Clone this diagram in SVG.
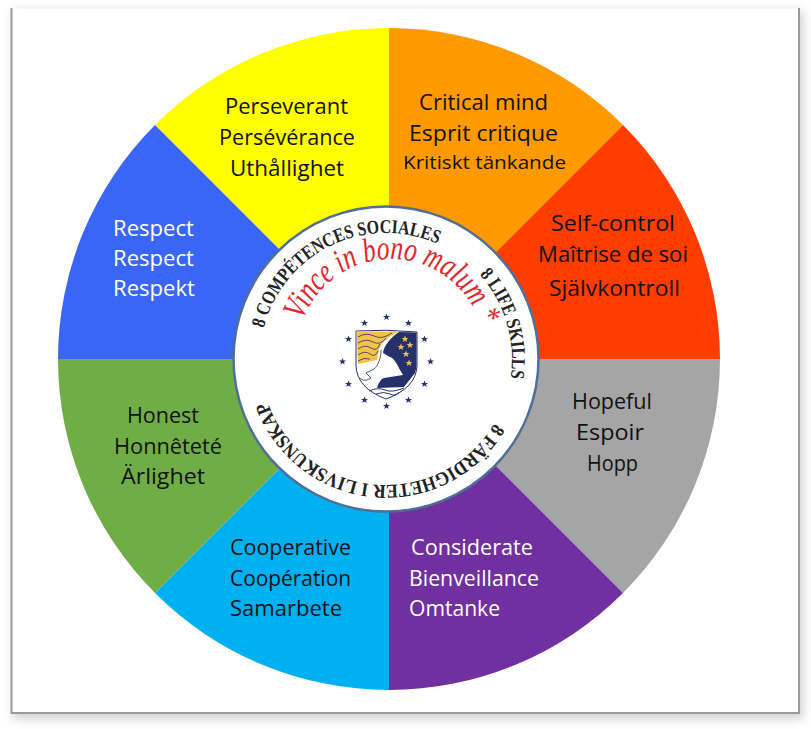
<svg xmlns="http://www.w3.org/2000/svg" xmlns:xlink="http://www.w3.org/1999/xlink" width="811" height="729" viewBox="0 0 811 729">
<style>
.l{font-family:"Open Sans","Noto Sans",sans-serif;font-size:21px;fill:#111;}
.w{fill:#fff;}
.c{font-family:"Liberation Serif",serif;font-weight:bold;font-size:19.500px;fill:#222;}
.v{font-family:"Liberation Serif",serif;font-style:italic;font-size:34px;fill:#e0262c;}
.st{fill:#26306a;}
</style>
<defs>
<filter id="sh" x="-5%" y="-5%" width="110%" height="110%"><feGaussianBlur stdDeviation="5"/></filter>
<path id="ring" d="M260,359 A126,126 0 1 1 512,359 A126,126 0 1 1 260,359"/>
<path id="arc" d="M297,353 A94,94 0 0 1 485,353"/>
<polygon id="s" points="0,-3.6 1,-1.1 3.500,-1.1 1.500,.5 2.200,3 0,1.500 -2.200,3 -1.500,.5 -3.500,-1.1 -1,-1.1"/>
</defs>
<g id="frame">
<rect x="13" y="11" width="790" height="708" fill="#999" opacity=".45" filter="url(#sh)"/>
<rect x="11.500" y="8.500" width="787" height="704" fill="#fff"/>
<path d="M11.500,8 V713 H799 V8" fill="none" stroke="#9a9a9a" stroke-width="2"/>
</g>
<g id="perseverant">
<path d="M389,359 L389,28 A331,331 0 0 0 155,125 Z" fill="#ffff00"/>
<text class="l" x="225" y="114" textLength="123" lengthAdjust="spacingAndGlyphs">Perseverant</text>
<text class="l" x="219" y="145" textLength="136" lengthAdjust="spacingAndGlyphs">Persévérance</text>
<text class="l" x="230" y="176" textLength="114" lengthAdjust="spacingAndGlyphs">Uthållighet</text>
</g>
<g id="critical-mind">
<path d="M389,359 L389,28 A331,331 0 0 1 623,125 Z" fill="#ff9900"/>
<text class="l" x="419" y="110" textLength="129" lengthAdjust="spacingAndGlyphs">Critical mind</text>
<text class="l" x="409" y="141" textLength="149" lengthAdjust="spacingAndGlyphs">Esprit critique</text>
<text class="l" x="403" y="169" textLength="163" lengthAdjust="spacingAndGlyphs" style="font-size:19px">Kritiskt tänkande</text>
</g>
<g id="self-control">
<path d="M389,359 L623,125 A331,331 0 0 1 720,359 Z" fill="#ff3d00"/>
<text class="l" x="551" y="231" textLength="124" lengthAdjust="spacingAndGlyphs">Self-control</text>
<text class="l" x="538" y="262" textLength="150" lengthAdjust="spacingAndGlyphs">Maîtrise de soi</text>
<text class="l" x="549" y="296" textLength="131" lengthAdjust="spacingAndGlyphs">Självkontroll</text>
</g>
<g id="hopeful">
<path d="M389,359 L720,359 A331,331 0 0 1 623,593 Z" fill="#a5a5a5"/>
<text class="l" x="572" y="409" textLength="80" lengthAdjust="spacingAndGlyphs">Hopeful</text>
<text class="l" x="576" y="440" textLength="68" lengthAdjust="spacingAndGlyphs">Espoir</text>
<text class="l" x="587" y="471" textLength="51" lengthAdjust="spacingAndGlyphs">Hopp</text>
</g>
<g id="considerate">
<path d="M389,359 L623,593 A331,331 0 0 1 389,690 Z" fill="#7030a0"/>
<text class="l w" x="411" y="555" textLength="122" lengthAdjust="spacingAndGlyphs">Considerate</text>
<text class="l w" x="409" y="586" textLength="130" lengthAdjust="spacingAndGlyphs">Bienveillance</text>
<text class="l w" x="409" y="616" textLength="91" lengthAdjust="spacingAndGlyphs">Omtanke</text>
</g>
<g id="cooperative">
<path d="M389,359 L389,690 A331,331 0 0 1 155,593 Z" fill="#00b0f0"/>
<text class="l" x="230" y="555" textLength="121" lengthAdjust="spacingAndGlyphs">Cooperative</text>
<text class="l" x="230" y="586" textLength="121" lengthAdjust="spacingAndGlyphs">Coopération</text>
<text class="l" x="230" y="616" textLength="112" lengthAdjust="spacingAndGlyphs">Samarbete</text>
</g>
<g id="honest">
<path d="M389,359 L155,593 A331,331 0 0 1 58,359 Z" fill="#70ad47"/>
<text class="l" x="127" y="423" textLength="72" lengthAdjust="spacingAndGlyphs">Honest</text>
<text class="l" x="114" y="454" textLength="108" lengthAdjust="spacingAndGlyphs">Honnêteté</text>
<text class="l" x="121" y="484" textLength="84" lengthAdjust="spacingAndGlyphs">Ärlighet</text>
</g>
<g id="respect">
<path d="M389,359 L58,359 A331,331 0 0 1 155,125 Z" fill="#3a66f7"/>
<text class="l w" x="113" y="236" textLength="81" lengthAdjust="spacingAndGlyphs">Respect</text>
<text class="l w" x="113" y="266" textLength="81" lengthAdjust="spacingAndGlyphs">Respect</text>
<text class="l w" x="113" y="296" textLength="82" lengthAdjust="spacingAndGlyphs">Respekt</text>
</g>
<g id="hub">
<circle cx="386" cy="359" r="152.500" fill="#fff" stroke="#4f6f96" stroke-width="2.500"/>
<text class="c"><textPath xlink:href="#ring" href="#ring" startOffset="31" textLength="220" lengthAdjust="spacingAndGlyphs">8 COMPÉTENCES SOCIALES</textPath></text>
<text class="c"><textPath xlink:href="#ring" href="#ring" startOffset="303" textLength="112" lengthAdjust="spacingAndGlyphs">8 LIFE SKILLS</textPath></text>
<text class="c"><textPath xlink:href="#ring" href="#ring" startOffset="463" textLength="285" lengthAdjust="spacingAndGlyphs">8  FÄRDIGHETER I LIVSKUNSKAP</textPath></text>
<text class="v"><textPath xlink:href="#arc" href="#arc" startOffset="33" textLength="233" lengthAdjust="spacingAndGlyphs">Vince in bono malum *</textPath></text>
</g>
<g id="logo">
<use href="#s" class="st" x="386.500" y="317"/>
<use href="#s" class="st" x="408.500" y="323"/>
<use href="#s" class="st" x="424.500" y="339"/>
<use href="#s" class="st" x="430.500" y="361.500"/>
<use href="#s" class="st" x="424.500" y="384"/>
<use href="#s" class="st" x="408.500" y="400"/>
<use href="#s" class="st" x="386.500" y="406"/>
<use href="#s" class="st" x="364.500" y="400"/>
<use href="#s" class="st" x="348.500" y="384"/>
<use href="#s" class="st" x="342.500" y="361.500"/>
<use href="#s" class="st" x="348.500" y="339"/>
<use href="#s" class="st" x="364.500" y="323"/>
<path d="M356,331 Q386,329 417,332 L417,366 Q416,388 386,399 Q357,388 356,366 Z" fill="#fff" stroke="#26306a" stroke-width="1"/>
<path d="M356.500,331.500 H399 C391,335 384,340 380,347 C378,352 378,356 377,360 L358,364 Z" fill="#f2c14e"/>
<path d="M358,337 Q366,332 374,336 T392,333 M358,343 Q366,338 373,342 T386,338 M358,349 Q365,344 371,348 T380,344 M358,355 Q365,350 370,354 T378,351 M358,361 Q364,357 370,359" fill="none" stroke="#26306a" stroke-width=".8"/>
<path d="M399,332 L416.500,332.500 L416.500,366 Q416,370 415,373 L404,387 L377,388 C379,382 381,379 384,378 L403,375 L400,370 C397,364 394,358 390,357 L383,353 C384,346 390,338 399,332 Z" fill="#26306a"/>
<path d="M369,391 Q378,387 385,390 T404,388 M376,394 Q384,391 390,394 T399,392" fill="none" stroke="#26306a" stroke-width="1"/>
<path d="M381,350 C381,358 378,366 374,369 L366,373 L371,378 C365,382 362,380 360,378" fill="none" stroke="#26306a" stroke-width=".8"/>
<g fill="#e8bf62"><use href="#s" x="405" y="339"/><use href="#s" x="410" y="345"/><use href="#s" x="401" y="347"/><use href="#s" x="406" y="354"/><use href="#s" x="409" y="363"/></g>
</g>
</svg>
